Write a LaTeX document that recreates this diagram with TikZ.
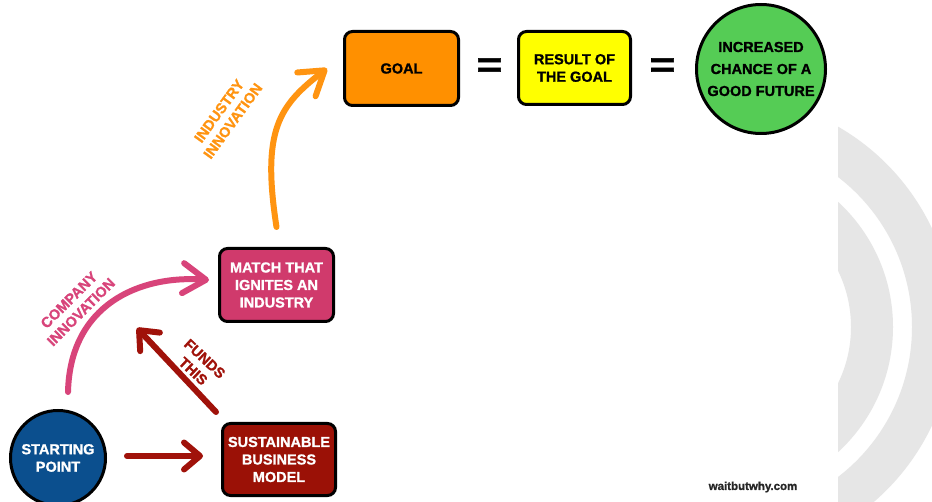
\documentclass[tikz,border=0pt]{standalone}
\usepackage{fontspec}
\setmainfont{Liberation Sans}[BoldFeatures={FakeBold=1.2}]
\usetikzlibrary{arrows.meta}

\definecolor{goalorange}{HTML}{FF9000}
\definecolor{resultyellow}{HTML}{FFFF00}
\definecolor{futuregreen}{HTML}{55CC55}
\definecolor{matchpink}{HTML}{D03A6C}
\definecolor{modelred}{HTML}{9B1106}
\definecolor{startblue}{HTML}{0B4F8E}
\definecolor{arroworange}{HTML}{FF9411}
\definecolor{arrowpink}{HTML}{D8447A}
\definecolor{arrowred}{HTML}{A0120A}
\definecolor{ringgrey}{HTML}{E6E6E6}

\begin{document}
\begin{tikzpicture}[x=1pt,y=1pt,
  boxtext/.style={font=\bfseries\fontsize{14.5}{17.5}\selectfont, align=center, inner sep=0pt},
  box/.style={boxtext, draw=black, line width=3pt, rounded corners=8pt},
  disc/.style={boxtext, circle, draw=black, line width=3pt},
  arrowlabel/.style={font=\bfseries\fontsize{14.5}{17}\selectfont, align=center, inner sep=0pt},
  equals/.style={font=\bfseries\fontsize{44}{44}\selectfont, inner sep=0pt},
  bigarrow/.style={line width=6pt, line cap=round, -{Straight Barb[round, length=23pt, width=30pt]}},
  smallarrow/.style={line width=6pt, line cap=round, -{Straight Barb[round, length=16pt, width=27pt]}},
]
\useasboundingbox (0,0) rectangle (932,501);
\fill[white] (0,0) rectangle (932,501);

% grey rings at the right edge
\begin{scope}
  \clip (838,0) rectangle (932,501);
  \fill[ringgrey, even odd rule] (723,174) circle[radius=170] (723,174) circle[radius=128];
  \fill[ringgrey, even odd rule] (723,174) circle[radius=231] (723,174) circle[radius=189];
\end{scope}

% top row
\node[box, fill=goalorange, minimum width=114pt, minimum height=74pt] (goal) at (401.5,432.5) {GOAL};
\node[equals] (eq1) at (489.5,433.5) {\scalebox{1}[0.8]{=}};
\node[box, fill=resultyellow, minimum width=112pt, minimum height=73pt] (result) at (574.5,433) {RESULT OF\\THE GOAL};
\node[equals] (eq2) at (662.5,433.5) {\scalebox{1}[0.8]{=}};
\node[boxtext, fill=futuregreen, circle, draw=black, line width=3pt, minimum size=129pt,
      font=\bfseries\fontsize{14.5}{22}\selectfont] (future) at (761,432) {INCREASED\\CHANCE OF A\\GOOD FUTURE};

% lower part
\node[box, fill=matchpink, text=white, minimum width=114pt, minimum height=73pt] (match) at (276.5,216) {MATCH THAT\\IGNITES AN\\INDUSTRY};
\node[box, fill=modelred, text=white, minimum width=113pt, minimum height=72pt] (sustain) at (279,41.5) {SUSTAINABLE\\BUSINESS\\MODEL};
\node[disc, fill=startblue, text=white, minimum size=95pt] (start) at (58,43) {STARTING\\POINT};

% connectors
\draw[bigarrow, draw=arroworange] ([yshift=20pt]match.north)
  .. controls +(-15,97) and +(-48,-37) .. ([xshift=-16pt]goal.west);
\draw[bigarrow, draw=arrowpink] ([xshift=10pt,yshift=17pt]start.north)
  .. controls +(2,87) and +(-70,5) .. ([xshift=-9pt,yshift=5pt]match.west);
\coordinate (fundstip) at (137,173);
\draw[smallarrow, draw=arrowred] ([xshift=-5pt,yshift=10pt]sustain.north west) -- (fundstip);
\draw[smallarrow, draw=arrowred] ([xshift=20pt,yshift=2pt]start.east) -- ([xshift=-18pt,yshift=2pt]start.east -| sustain.west);

% connector labels
\node[arrowlabel, text=arroworange, rotate=54] (lblindustry) at (226,385) {INDUSTRY\\INNOVATION};
\node[arrowlabel, text=arrowpink, rotate=45] (lblcompany) at (75,195) {COMPANY\\INNOVATION};
\node[arrowlabel, text=arrowred, rotate=-43] (lblfunds) at (199,136) {FUNDS\\THIS};

% credit line
\node[font=\bfseries\fontsize{11.5}{13}\selectfont, text=black!85, inner sep=0pt] (credit) at (753,14) {waitbutwhy.com};
\end{tikzpicture}
\end{document}
